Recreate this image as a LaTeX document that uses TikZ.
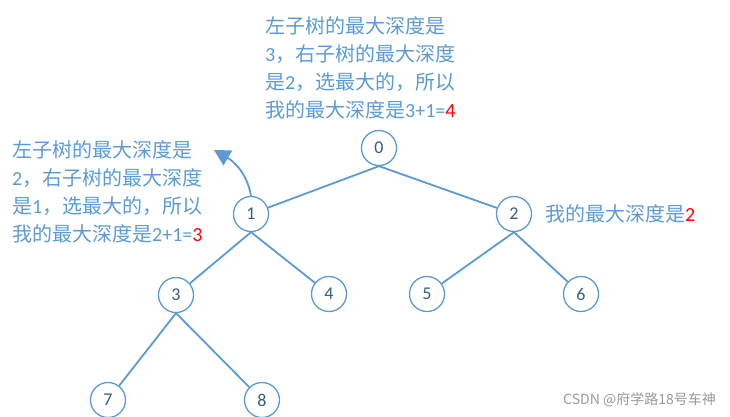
\documentclass[tikz,border=0pt]{standalone}
\usepackage{fontspec}
\usetikzlibrary{arrows.meta}
\setmainfont{Noto Sans CJK SC}
\newfontfamily\latinf{Carlito}
\definecolor{bl}{RGB}{91,155,213}
\begin{document}
\begin{tikzpicture}[x=1pt,y=-1pt,
 nd/.style={circle,draw=bl,line width=1.3pt,fill=white,minimum size=35pt,inner sep=0pt,font=\latinf\fontsize{18}{18}\selectfont,text=bl!60!black},
 ed/.style={draw=bl,line width=1.8pt},
 lab/.style={text=bl,font=\fontsize{20}{28}\selectfont,align=left,inner sep=0pt}]
\useasboundingbox (0,0) rectangle (730,417);
\node[nd] (n0) at (379,148) {0};
\node[nd] (n1) at (251,214) {1};
\node[nd] (n2) at (514,214) {2};
\node[nd] (n3) at (176,295) {3};
\node[nd] (n4) at (329,294) {4};
\node[nd] (n5) at (427,294) {5};
\node[nd] (n6) at (581,294) {6};
\node[nd] (n7) at (108,400) {7};
\node[nd] (n8) at (262,400) {8};
\foreach \a/\b in {n0/n1,n0/n2,n1/n3,n1/n4,n2/n5,n2/n6,n3/n7,n3/n8}
  \draw[ed] (\a.south) -- (\b);
\draw[ed,-{Triangle[length=16pt,width=17pt]}] (n1.north) to[out=100,in=-30] (214,150);
\node[lab,anchor=north west] (t0) at (265,16) {左子树的最大深度是\\{\latinf 3}，右子树的最大深度\\是{\latinf 2}，选最大的，所以\\我的最大深度是{\latinf 3+1=\textcolor{red}{4}}};
\node[lab,anchor=north west] (t1) at (12,140) {左子树的最大深度是\\{\latinf 2}，右子树的最大深度\\是{\latinf 1}，选最大的，所以\\我的最大深度是{\latinf 2+1=\textcolor{red}{3}}};
\node[lab,anchor=west] (t2) at (545,214) {我的最大深度是{\latinf\textcolor{red}{2}}};
\node[text=gray!80,font=\fontsize{14}{14}\selectfont,anchor=east,inner sep=0pt] (wm) at (716,400) {CSDN @府学路18号车神};
\end{tikzpicture}
\end{document}
